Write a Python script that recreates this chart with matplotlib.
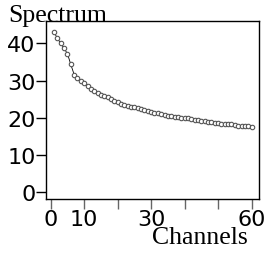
import matplotlib
matplotlib.use("Agg")
import matplotlib.pyplot as plt

channels = list(range(1, 61))
spectrum = [43.0, 41.3, 40.0, 38.6, 37.2, 34.3, 31.6, 30.6, 29.9, 29.2,
            28.5, 27.7, 27.2, 26.7, 26.1, 25.8, 25.5, 24.9, 24.4, 24.1,
            23.7, 23.4, 23.2, 23.0, 22.8, 22.6, 22.3, 22.0, 21.8, 21.5,
            21.3, 21.2, 21.0, 20.8, 20.6, 20.4, 20.2, 20.1, 20.0, 20.0,
            19.8, 19.6, 19.4, 19.3, 19.2, 19.0, 18.9, 18.8, 18.7, 18.6,
            18.4, 18.3, 18.2, 18.2, 18.1, 17.8, 17.7, 17.7, 17.7, 17.6]
x_ticks = [0, 10, 20, 30, 40, 50, 60]
x_labels = ["0", "10", "", "30", "", "", "60"]
y_ticks = [0, 10, 20, 30, 40]

fig = plt.figure(figsize=(2.74, 2.55), dpi=100)
ax = fig.add_axes([0.168, 0.216, 0.777, 0.698])

ax.plot(channels, spectrum, color="black", lw=0.6, marker="o", ms=3.2,
        mfc="white", mec="#555555", mew=0.8)

ax.set_xlim(-1.4, 62.2)
ax.set_ylim(-1.8, 46.0)
ax.set_xticks(x_ticks)
ax.set_xticklabels(x_labels)
ax.set_yticks(y_ticks)
ax.tick_params(labelsize=16, length=7, width=1, pad=0.5)
ax.tick_params(axis="x", color="#666666")
for s in ax.spines.values():
    s.set_linewidth(1)

fig.text(0.03, 0.915, "Spectrum", family="Liberation Serif", fontsize=18.5, va="baseline")
fig.text(0.905, 0.043, "Channels", family="Liberation Serif", fontsize=18.5, ha="right", va="baseline")

fig.savefig("out.png", dpi=100)
